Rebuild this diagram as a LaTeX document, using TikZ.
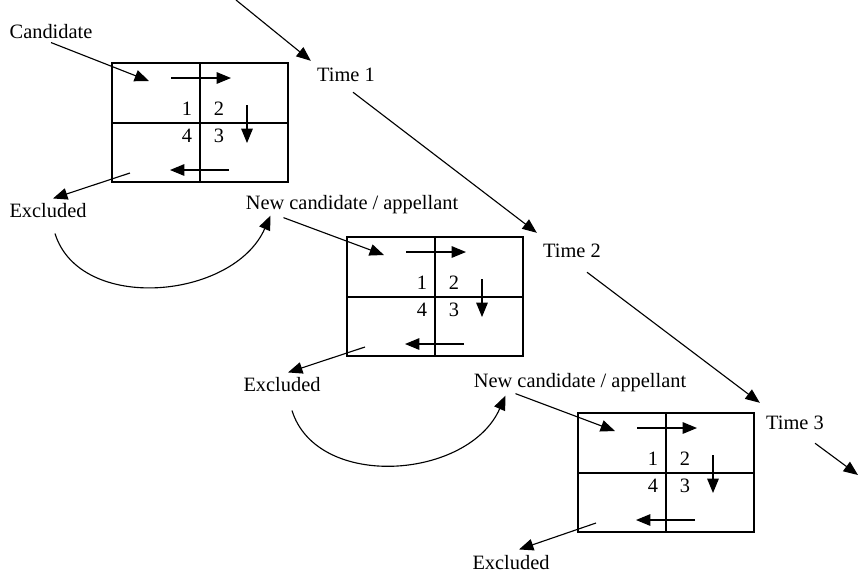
\documentclass[tikz,border=0pt]{standalone}
\usepackage{fontspec}
\setmainfont{Liberation Serif}
\usetikzlibrary{arrows.meta}

\tikzset{
  lbl/.style={font=\fontsize{14.5}{17}\selectfont, inner sep=2pt},
  num/.style={font=\fontsize{14.5}{17}\selectfont, inner sep=0pt},
  arr/.style={-{Triangle[length=0.36cm,width=0.29cm]}},
}

\begin{document}
\begin{tikzpicture}[x=0.025cm,y=-0.025cm,line width=0.8pt]
    \useasboundingbox (0,0) rectangle (860,575);

    % Cuadros de las tres etapas
    \foreach \n/\bx/\by in {1/112/63, 2/347/237, 3/578/413} {
      \begin{scope}[shift={(\bx,\by)}]
        \node[draw, anchor=north west, inner sep=0pt, outer sep=0pt,
              minimum width=4.4cm, minimum height=2.975cm] (box\n) at (0,0) {};
        \draw (88,0) -- (88,119);
        \draw (0,60) -- (176,60);
        % Numeros
        \node[num] (one\n) at (75,46) {1};
        \node[num] (two\n) at (107,46) {2};
        \node[num] (three\n) at (107,73) {3};
        \node[num] (four\n) at (75,73) {4};
        % Flechas internas
        \draw[arr] (59,15) -- (119,15);
        \draw[arr] (135,42) -- (135,80);
        \draw[arr] (117,107) -- (58,107);
        % Entrada y salida
        \coordinate (in\n) at (37,18);
        \coordinate (out\n) at (18,110);
      \end{scope}
    }

    % Etiquetas
    \node[lbl] (cand) at (51,32) {Candidate};
    \node[lbl] (new2) at (352,205) {New candidate / appellant};
    \node[lbl] (new3) at (580,383) {New candidate / appellant};
    \node[lbl] (excl1) at (48,211) {Excluded};
    \node[lbl] (excl2) at (282,385) {Excluded};
    \node[lbl] (excl3) at (511,563) {Excluded};
    \node[lbl] (time1) at (346,75) {Time 1};
    \node[lbl] (time2) at (572,251) {Time 2};
    \node[lbl] (time3) at (795,423) {Time 3};

    % Entradas y salidas
    \draw[arr] (cand.south) -- (in1);
    \draw[arr] ([shift={(41,0)}]new2.south west) -- (in2);
    \draw[arr] ([shift={(45,-2)}]new3.south west) -- (in3);
    \draw[arr] (out1) -- ([shift={(5,-2)}]excl1.north);
    \draw[arr] (out2) -- ([shift={(6,-2)}]excl2.north);
    \draw[arr] (out3) -- ([shift={(8,-3)}]excl3.north);

    % Curvas
    \draw[arr] ([shift={(7,12)}]excl1.south) .. controls +(25,80) and +(-37,84) .. ([shift={(28,-2)}]new2.south west);
    \draw[arr] ([shift={(10,15)}]excl2.south) .. controls +(25,80) and +(-37,84) .. ([shift={(35,0)}]new3.south west);

    % Tiempo
    \coordinate (start) at (236,0);
    \coordinate (next) at (858,475);
    \draw[arr] (start) -- ([shift={(-3,-4)}]time1.north west);
    \draw[arr] ([shift={(7,7)}]time1.south) -- ([shift={(-3,-8)}]time2.north west);
    \draw[arr] ([shift={(15,11)}]time2.south) -- ([shift={(-3,-10)}]time3.north west);
    \draw[arr] ([shift={(20,10)}]time3.south) -- (next);

\end{tikzpicture}
\end{document}
